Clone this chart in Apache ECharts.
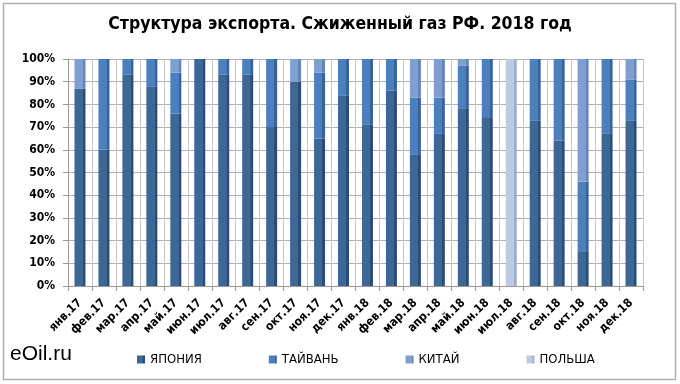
<!DOCTYPE html>
<html><head><meta charset="utf-8">
<script src="https://cdn.jsdelivr.net/npm/echarts@6/dist/echarts.min.js"></script>
<style>html,body{margin:0;padding:0;background:#fff}#c{width:680px;height:384px}</style>
</head><body><div id="c"></div>
<script>
const categories = ['янв.17','фев.17','мар.17','апр.17','май.17','июн.17','июл.17','авг.17','сен.17','окт.17','ноя.17','дек.17','янв.18','фев.18','мар.18','апр.18','май.18','июн.18','июл.18','авг.18','сен.18','окт.18','ноя.18','дек.18'];
const japan  = [87, 60, 93, 88, 76, 100, 93, 93, 70, 90, 65, 84, 71, 86, 58, 67, 78, 74, 0, 73, 64, 15, 67, 73];
const taiwan = [0, 40, 7, 12, 18, 0, 7, 7, 30, 0, 29, 16, 29, 14, 25, 16, 19, 26, 0, 27, 36, 31, 33, 18];
const china  = [13, 0, 0, 0, 6, 0, 0, 0, 0, 10, 6, 0, 0, 0, 17, 17, 3, 0, 0, 0, 0, 54, 0, 9];
const poland = [0, 0, 0, 0, 0, 0, 0, 0, 0, 0, 0, 0, 0, 0, 0, 0, 0, 0, 100, 0, 0, 0, 0, 0];
const yTicks = [0,10,20,30,40,50,60,70,80,90,100];
const seriesNames = ['ЯПОНИЯ','ТАЙВАНЬ','КИТАЙ','ПОЛЬША'];

function grad(light, dark){
  return new echarts.graphic.LinearGradient(0,0,1,0,[
    {offset:0,color:light},{offset:0.75,color:light},{offset:0.76,color:dark},{offset:1,color:dark}]);
}
const colors = [
  ['#3d6797','#2c4d73'],
  ['#4b7fbe','#38629a'],
  ['#7f9fd1','#6585b5'],
  ['#bccae6','#9cacca']
];
const datas = [japan, taiwan, china, poland];
const font = '"DejaVu Sans Condensed","Liberation Sans Narrow",Arial,sans-serif';

const chart = echarts.init(document.getElementById('c'));
chart.setOption({
  animation:false,
  title:{text:'Структура экспорта. Сжиженный газ РФ. 2018 год',left:'center',top:10,
    textStyle:{fontFamily:font,fontSize:17.5,fontWeight:'bold',color:'#000'}},
  graphic:[
    {type:'rect',shape:{x:3.5,y:3.5,width:672,height:376},style:{fill:'none',stroke:'#b0b0b0',lineWidth:1.5},z:-1},
    {type:'text',left:10,top:344,style:{text:'eOil.ru',fontFamily:'"Liberation Sans",Arial,sans-serif',fontSize:21,fill:'#000'}}
  ],
  legend:{bottom:13,left:132,itemGap:67,itemWidth:8,itemHeight:8,icon:'rect',
    data:seriesNames,
    textStyle:{fontFamily:font,fontSize:13,color:'#000',padding:[2,0,0,0]}},
  grid:{left:68,right:37,top:59,bottom:98},
  xAxis:{type:'category',data:categories,
    axisLine:{lineStyle:{color:'#999'}},
    axisTick:{show:true,alignWithLabel:false,lineStyle:{color:'#999'}},
    splitLine:{show:true,lineStyle:{color:'#c8c8c8'}},
    axisLabel:{rotate:45,interval:0,fontFamily:font,fontSize:12,fontWeight:'bold',color:'#000',margin:15}},
  yAxis:{type:'value',min:0,max:100,interval:10,
    axisLine:{show:true,lineStyle:{color:'#999'}},
    axisTick:{show:true,lineStyle:{color:'#999'}},
    splitLine:{lineStyle:{color:'#b0b0b0'}},
    axisLabel:{formatter:v=>v+'%',fontFamily:font,fontSize:12,fontWeight:'bold',color:'#000',margin:13}},
  series: seriesNames.map((n,i)=>({
    name:n,type:'bar',stack:'all',barWidth:11,
    data:datas[i],
    itemStyle:{color:grad(colors[i][0],colors[i][1])}
  }))
});
</script></body></html>
